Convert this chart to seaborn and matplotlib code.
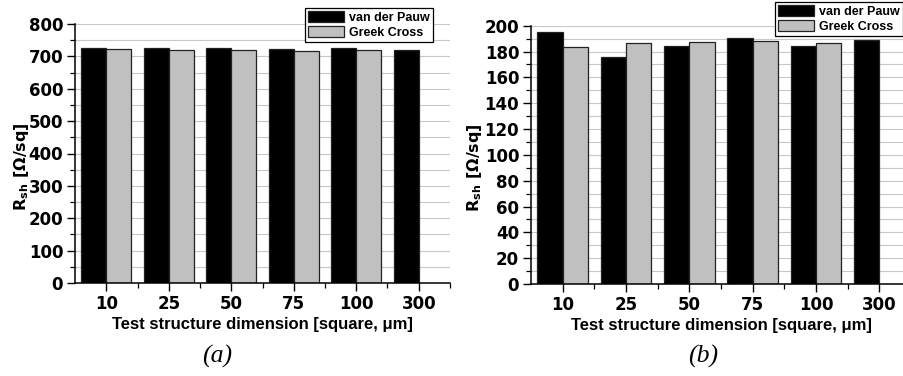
import numpy as np
import pandas as pd
import matplotlib
matplotlib.use("Agg")
import matplotlib.pyplot as plt
from matplotlib.ticker import MultipleLocator
import seaborn as sns

categories = ["10", "25", "50", "75", "100", "300"]
series_names = ["van der Pauw", "Greek Cross"]
vdp_a = [727, 727, 725, 724, 725, 721]
gc_a = [722, 720, 719, 718, 719, np.nan]
vdp_b = [194.9, 175.5, 184.0, 190.2, 184.5, 188.6]
gc_b = [183.8, 186.3, 187.1, 187.9, 186.3, np.nan]

sns.set_theme(style="white")
plt.rcParams["font.family"] = ["DejaVu Sans"]
plt.rcParams["mathtext.fontset"] = "custom"
plt.rcParams["mathtext.rm"] = "DejaVu Sans:bold"
plt.rcParams["mathtext.bf"] = "DejaVu Sans:bold"
plt.rcParams["mathtext.it"] = "DejaVu Sans:bold"
for k in ["text.color", "axes.labelcolor", "xtick.color", "ytick.color"]:
    plt.rcParams[k] = "black"

def make_df(v, g):
    return pd.DataFrame({
        "dim": categories * 2,
        "series": [series_names[0]] * len(categories) + [series_names[1]] * len(categories),
        "val": list(v) + list(g),
    })

fig = plt.figure(figsize=(9.04, 3.76), dpi=100)
ax1 = fig.add_axes([75/904, 1-283/376, 375/904, 259/376])
ax2 = fig.add_axes([531/904, 1-284/376, 380/904, 258.3/376])

palette = {series_names[0]: "#000000", series_names[1]: "#c0c0c0"}

def draw(ax, df, ymax, major, minor, ylabel, legend_anchor, ylab_x):
    ax.set_axisbelow(True)
    sns.barplot(data=df, x="dim", y="val", hue="series", order=categories,
                hue_order=series_names, palette=palette, width=0.8,
                edgecolor="#222222", linewidth=0.9, saturation=1, ax=ax, errorbar=None)
    ax.set_xlim(-0.5, 5.5)
    ax.set_ylim(0, ymax)
    ax.yaxis.set_major_locator(MultipleLocator(major))
    ax.yaxis.set_minor_locator(MultipleLocator(minor))
    ax.set_xticks(np.arange(0.5, 5.6, 1.0), minor=True)
    ax.grid(True, which="both", axis="y", color="#c8c8c8", linewidth=0.8)
    for s in ["top", "right"]:
        ax.spines[s].set_visible(False)
    for s in ["left", "bottom"]:
        ax.spines[s].set_color("black")
        ax.spines[s].set_linewidth(1.1)
    ax.tick_params(axis="both", which="major", direction="out", length=6, width=1.0,
                   color="black", labelsize=12, pad=2.5, left=True, bottom=True)
    ax.tick_params(axis="both", which="minor", direction="out", length=3.5, width=0.9,
                   color="black", left=True, bottom=True)
    for lab in ax.get_xticklabels() + ax.get_yticklabels():
        lab.set_fontweight("bold")
    ax.set_xlabel("Test structure dimension [square, μm]", fontsize=12, fontweight="bold",
                  family="Liberation Sans", labelpad=3)
    ax.set_ylabel(ylabel, fontsize=11.5, fontweight="bold")
    ax.yaxis.set_label_coords(ylab_x, 0.45)
    handles, labels = ax.get_legend_handles_labels()
    leg = ax.legend(handles, labels, loc="upper right", bbox_to_anchor=legend_anchor,
                    bbox_transform=fig.transFigure, borderaxespad=0, frameon=True,
                    fancybox=False, framealpha=1, edgecolor="black",
                    prop={"weight": "bold", "size": 9, "family": "Liberation Sans"},
                    handlelength=2.9, handleheight=0.9,
                    borderpad=0.25, labelspacing=0.2, handletextpad=0.4)
    leg.get_frame().set_linewidth(0.9)
    for p in leg.get_patches():
        p.set_edgecolor("#222222")
        p.set_linewidth(0.9)

draw(ax1, make_df(vdp_a, gc_a), 800, 100, 50, r"R$_{\mathbf{sh}}$ [Ω/sq]",
     (433/904, 1-8/376), (31-75)/375)
draw(ax2, make_df(vdp_b, gc_b), 200, 20, 10, r"R$_{\mathrm{sh}}$ [Ω/sq]",
     (903/904, 1-2/376), (484-531)/380)

fig.text(217/904, 1-356/376, "(a)", ha="center", va="center", fontsize=18.5,
         style="italic", family="Liberation Serif")
fig.text(703/904, 1-356/376, "(b)", ha="center", va="center", fontsize=18.5,
         style="italic", family="Liberation Serif")

fig.savefig("out.png", dpi=100)
